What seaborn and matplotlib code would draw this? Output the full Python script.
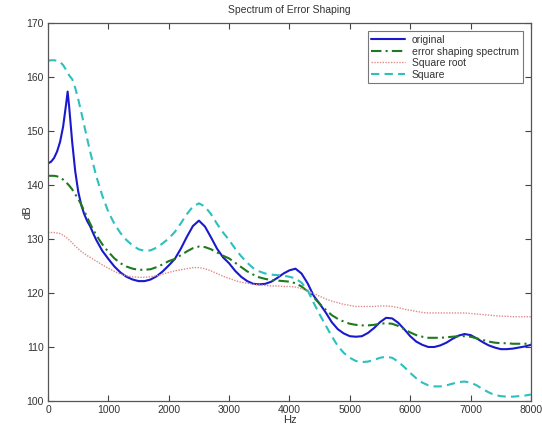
import numpy as np
import pandas as pd
import matplotlib
matplotlib.use("Agg")
import matplotlib.pyplot as plt
import seaborn as sns

freq = [0, 50, 100, 150, 200, 250, 300, 325, 350, 400, 450, 500, 550, 600, 650, 700, 750, 800,
        900, 1000, 1100, 1200, 1300, 1400, 1500, 1600, 1700, 1800, 1900, 2000,
        2100, 2200, 2300, 2400, 2500, 2600, 2700, 2800, 2900, 3000,
        3100, 3200, 3300, 3400, 3500, 3600, 3700, 3800, 3900, 4000,
        4100, 4200, 4300, 4400, 4500, 4600, 4700, 4800, 4900, 5000,
        5100, 5200, 5300, 5400, 5500, 5600, 5700, 5800, 5900, 6000,
        6100, 6200, 6300, 6400, 6500, 6600, 6700, 6800, 6900, 7000,
        7100, 7200, 7300, 7400, 7500, 7600, 7700, 7800, 7900, 8000]

original = [144.0, 144.3, 145.0, 146.2, 148.0, 150.8, 155.0, 157.3, 154.5, 148.0, 142.6, 138.8, 136.3, 134.6, 133.3, 132.3, 131.0, 129.8,
            127.8, 126.3, 124.9, 123.8, 123.0, 122.5, 122.2, 122.2, 122.5, 123.1, 124.0, 125.1,
            126.3, 128.2, 130.4, 132.4, 133.4, 132.3, 130.3, 128.2, 126.6, 125.5,
            124.1, 123.0, 122.2, 121.7, 121.6, 121.7, 122.1, 122.8, 123.6, 124.2,
            124.5, 123.6, 121.8, 119.5, 118.0, 116.4, 114.6, 113.3, 112.5, 112.0,
            111.9, 112.0, 112.6, 113.5, 114.6, 115.4, 115.3, 114.5, 113.3, 112.0,
            111.0, 110.4, 110.0, 110.0, 110.3, 110.8, 111.5, 112.1, 112.4, 112.2,
            111.6, 110.9, 110.3, 109.9, 109.6, 109.6, 109.7, 109.9, 110.1, 110.4]

error_shaping = [141.7, 141.7, 141.7, 141.6, 141.4, 141.0, 140.5, 140.2, 139.9, 139.2, 138.3, 137.4, 136.4, 135.2, 134.0, 132.8, 131.7, 130.7,
                 129.0, 127.6, 126.4, 125.5, 124.9, 124.5, 124.3, 124.3, 124.4, 124.8, 125.3, 125.9,
                 126.3, 127.0, 127.7, 128.3, 128.6, 128.5, 128.1, 127.5, 126.9, 126.4,
                 125.6, 124.8, 124.0, 123.4, 122.9, 122.6, 122.4, 122.3, 122.2, 122.1,
                 121.8, 121.2, 120.3, 119.2, 118.0, 116.9, 115.9, 115.2, 114.7, 114.3,
                 114.1, 114.0, 114.0, 114.1, 114.3, 114.4, 114.3, 113.9, 113.3, 112.7,
                 112.2, 111.9, 111.7, 111.7, 111.7, 111.8, 111.9, 112.0, 112.0, 111.9,
                 111.6, 111.3, 111.0, 110.8, 110.7, 110.7, 110.6, 110.6, 110.6, 110.6]

square_root = [131.2, 131.2, 131.2, 131.1, 131.0, 130.7, 130.3, 130.1, 129.8, 129.3, 128.7, 128.2, 127.7, 127.3, 126.9, 126.6, 126.2, 125.9,
               125.2, 124.6, 124.0, 123.5, 123.2, 123.0, 122.9, 122.9, 123.0, 123.2, 123.5, 123.8,
               124.1, 124.3, 124.5, 124.7, 124.7, 124.5, 124.1, 123.6, 123.1, 122.7,
               122.3, 122.0, 121.8, 121.6, 121.5, 121.4, 121.3, 121.3, 121.2, 121.2,
               121.1, 120.8, 120.4, 119.9, 119.4, 118.9, 118.5, 118.2, 117.9, 117.7,
               117.5, 117.5, 117.5, 117.5, 117.6, 117.6, 117.5, 117.3, 117.0, 116.8,
               116.6, 116.4, 116.3, 116.3, 116.3, 116.3, 116.3, 116.3, 116.3, 116.2,
               116.1, 116.0, 115.9, 115.8, 115.7, 115.7, 115.6, 115.6, 115.6, 115.6]

square = [163.0, 163.1, 163.1, 163.0, 162.8, 162.2, 161.3, 160.8, 160.3, 159.6, 158.0, 155.9, 153.5, 151.0, 148.5, 146.1, 143.8, 141.6,
          138.0, 135.0, 132.8, 131.1, 129.8, 128.8, 128.1, 127.8, 127.9, 128.4, 129.2, 130.1,
          131.3, 132.9, 134.6, 136.0, 136.6, 136.0, 134.6, 132.8, 131.2, 129.8,
          128.2, 126.8, 125.6, 124.6, 124.0, 123.6, 123.4, 123.3, 123.2, 123.0,
          122.7, 121.9, 120.5, 118.2, 116.0, 114.0, 112.0, 110.2, 108.9, 108.0,
          107.4, 107.2, 107.3, 107.6, 108.0, 108.2, 108.0, 107.3, 106.3, 105.2,
          104.2, 103.4, 102.9, 102.7, 102.7, 102.9, 103.2, 103.5, 103.6, 103.4,
          102.9, 102.2, 101.6, 101.1, 100.9, 100.8, 100.8, 100.9, 101.0, 101.2]

series_names = ["original", "error shaping spectrum", "Square root", "Square"]
x_ticks = [0, 1000, 2000, 3000, 4000, 5000, 6000, 7000, 8000]
y_ticks = [100, 110, 120, 130, 140, 150, 160, 170]

sns.set_theme(style="white")
plt.rcParams['font.family'] = ['Liberation Sans', 'DejaVu Sans']

fig = plt.figure(figsize=(5.42, 4.29), dpi=100)
ax = fig.add_axes([0.0886, 0.0653, 0.891, 0.8811])

styles = [
    dict(color="#1a1acc", linestyle="-", linewidth=1.5),
    dict(color="#1e7a1e", linestyle=(0, (5, 2, 1, 2)), linewidth=1.5),
    dict(color="#e08a8a", linestyle=(0, (1, 1)), linewidth=1.0),
    dict(color="#2ebfbf", linestyle=(0, (4, 2.5)), linewidth=1.5),
]
for name, vals, st in zip(series_names, [original, error_shaping, square_root, square], styles):
    sns.lineplot(x=freq, y=vals, ax=ax, label=name, **st)

ax.set_xlim(0, 8000)
ax.set_ylim(100, 170)
ax.set_xticks(x_ticks)
ax.set_yticks(y_ticks)
ax.set_xticklabels([str(t) for t in x_ticks])
ax.set_yticklabels([str(t) for t in y_ticks])
ax.tick_params(direction="in", length=4, width=0.8, colors="#444444", labelsize=7.5,
               top=True, right=True, bottom=True, left=True, pad=3)
for lbl in ax.get_xticklabels() + ax.get_yticklabels():
    lbl.set_color("#333333")
for sp in ax.spines.values():
    sp.set_color("#555555")
    sp.set_linewidth(0.9)

ax.set_xlabel("Hz", fontsize=8, color="#333333", labelpad=0)
ax.set_ylabel("dB", fontsize=8, color="#333333")
ax.yaxis.set_label_coords(-0.033, 0.5)
ax.set_title("Spectrum of Error Shaping", fontsize=7.5, color="#333333", pad=7)

leg = ax.legend(loc="upper right", fontsize=7.5, frameon=True, fancybox=False,
                borderaxespad=0.8, handlelength=3.2, handletextpad=0.7,
                labelspacing=0.15, borderpad=0.35)
leg.get_frame().set_edgecolor("#555555")
leg.get_frame().set_linewidth(0.8)
for t in leg.get_texts():
    t.set_color("#333333")

fig.savefig("out.png", dpi=100)
